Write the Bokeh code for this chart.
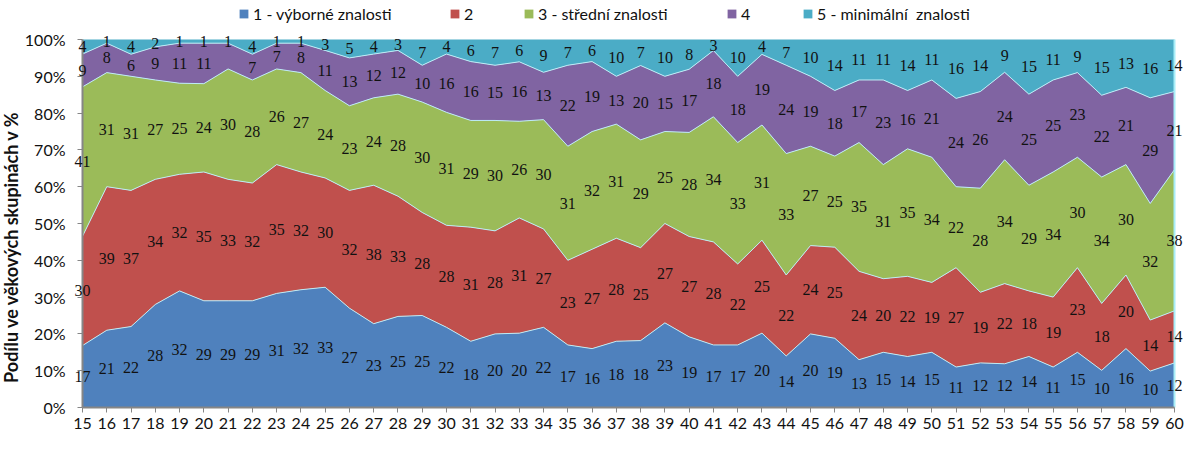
import math
from bokeh.plotting import figure
from bokeh.models import (ColumnDataSource, FixedTicker, NumeralTickFormatter, Legend,
                          LegendItem, Range1d, LabelSet, Label, LinearAxis)
from bokeh.embed import file_html
from bokeh.resources import INLINE

ages = list(range(15, 61))

s1 = [17, 21, 22, 28, 32, 29, 29, 29, 31, 32, 33, 27, 23, 25, 25, 22, 18, 20, 20, 22, 17, 16, 18,
      18, 23, 19, 17, 17, 20, 14, 20, 19, 13, 15, 14, 15, 11, 12, 12, 14, 11, 15, 10, 16, 10, 12]
s2 = [30, 39, 37, 34, 32, 35, 33, 32, 35, 32, 30, 32, 38, 33, 28, 28, 31, 28, 31, 27, 23, 27, 28,
      25, 27, 27, 28, 22, 25, 22, 24, 25, 24, 20, 22, 19, 27, 19, 22, 18, 19, 23, 18, 20, 14, 14]
s3 = [41, 31, 31, 27, 25, 24, 30, 28, 26, 27, 24, 23, 24, 28, 30, 31, 29, 30, 26, 30, 31, 32, 31,
      29, 25, 28, 34, 33, 31, 33, 27, 25, 35, 31, 35, 34, 22, 28, 34, 29, 34, 30, 34, 30, 32, 38]
s4 = [9, 8, 6, 9, 11, 11, 7, 7, 7, 8, 11, 13, 12, 12, 10, 16, 16, 15, 16, 13, 22, 19, 13,
      20, 15, 17, 18, 18, 19, 24, 19, 18, 17, 23, 16, 21, 24, 26, 24, 25, 25, 23, 22, 21, 29, 21]
s5 = [4, 1, 4, 2, 1, 1, 1, 4, 1, 1, 3, 5, 4, 3, 7, 4, 6, 7, 6, 9, 7, 6, 10,
      7, 10, 8, 3, 10, 4, 7, 10, 14, 11, 11, 14, 11, 16, 14, 9, 15, 11, 9, 15, 13, 16, 14]

series_names = ["1 - výborné znalosti", "2", "3 - střední znalosti", "4", "5 - minimální  znalosti"]
series_values = [s1, s2, s3, s4, s5]
colors = ["#4F81BD", "#C0504D", "#9BBB59", "#8064A2", "#4BACC6"]
# label not shown in the reference chart (series index, age)
hidden_labels = {(3, 21)}

y_ticks = [i / 10 for i in range(11)]
y_title = "Podílu ve věkových  skupinách  v %"

FONT = "Lato"

# ---- layout (pixels inside the figure) ----
W, H = 1184, 434
plot_left, plot_right = 82, 1174     # pixel of first / last category
plot_top, plot_bottom = 39, 407      # pixel of 100% / 0%
legend_x = [238, 449, 523, 726, 802]  # left edge of each legend entry

xs = (plot_right - plot_left) / (ages[-1] - ages[0])
x0 = ages[0] - plot_left / xs
x1 = ages[-1] + (W - plot_right) / xs
ys = (plot_bottom - plot_top) / 1.0
y0 = -(H - plot_bottom) / ys
y1 = 1.0 + plot_top / ys

totals = [sum(v[i] for v in series_values) for i in range(len(ages))]
data = {"age": ages}
keys = []
for k, vals in enumerate(series_values):
    key = f"s{k}"
    keys.append(key)
    data[key] = [v / t for v, t in zip(vals, totals)]
src = ColumnDataSource(data)

p = figure(width=W, height=H, output_backend="svg", toolbar_location=None,
           x_range=Range1d(x0, x1), y_range=Range1d(y0, y1),
           x_axis_location=None, y_axis_location=None,
           min_border=0)
p.outline_line_color = None
p.grid.visible = False
p.background_fill_color = "white"

renderers = p.varea_stack(stackers=keys, x="age", color=colors, source=src)

# boundary lines and labels
cum = [0.0] * len(ages)
lx, ly, lt = [], [], []
for k, key in enumerate(keys):
    fr = data[key]
    top = [c + f for c, f in zip(cum, fr)]
    for i, a in enumerate(ages):
        if (k, a) in hidden_labels:
            continue
        lx.append(a)
        ly.append(cum[i] + fr[i] / 2)
        lt.append(str(series_values[k][i]))
    if k < len(keys) - 1:
        p.line(ages, top, line_color="#BDEBF5", line_width=1)
    cum = top

# light edge at the right end of the stacked area
p.line([ages[-1], ages[-1]], [0, 1], line_color="#A8EEF8", line_width=2)

lsrc = ColumnDataSource(dict(x=lx, y=ly, t=lt))
labels = LabelSet(x="x", y="y", text="t", source=lsrc, text_align="center",
                  text_baseline="middle", text_font=FONT, text_font_size="16px",
                  text_color="#111111")
p.add_layout(labels)

# axes drawn at the data edges
xaxis = LinearAxis(fixed_location=0, bounds=(ages[0], ages[-1]), ticker=FixedTicker(ticks=ages))
yaxis = LinearAxis(fixed_location=ages[0], bounds=(0, 1), ticker=FixedTicker(ticks=y_ticks),
                   formatter=NumeralTickFormatter(format="0%"))
for ax in (xaxis, yaxis):
    ax.axis_line_color = "#868686"
    ax.axis_line_width = 2
    ax.major_tick_line_color = "#868686"
    ax.major_tick_in = 0
    ax.major_tick_out = 5
    ax.minor_tick_line_color = None
    ax.major_label_text_font = FONT
    ax.major_label_text_font_size = "16px"
    ax.major_label_text_color = "#111111"
xaxis.major_label_standoff = 5
yaxis.major_label_standoff = 12
p.add_layout(xaxis, "below")
p.add_layout(yaxis, "left")

p.add_layout(Label(x=10, y=H - 242, x_units="screen", y_units="screen", text=y_title,
                   angle=math.pi / 2, text_align="center", text_baseline="middle",
                   text_font=FONT, text_font_style="bold", text_font_size="18px",
                   text_color="#111111"))

for name, r, lxp in zip(series_names, renderers, legend_x):
    legend = Legend(items=[LegendItem(label=name, renderers=[r])], location=(lxp, H - 23),
                    label_text_font=FONT, label_text_font_size="16px",
                    label_text_color="#111111", glyph_width=11, glyph_height=11,
                    label_standoff=4, padding=0, margin=0, border_line_alpha=0,
                    background_fill_alpha=0, label_height=16)
    p.add_layout(legend, "center")

open("out.html", "w").write(file_html(p, INLINE))
